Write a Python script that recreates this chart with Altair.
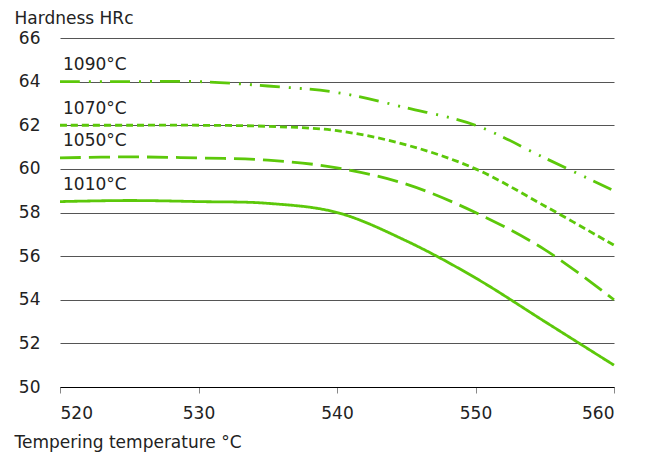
import altair as alt
import pandas as pd

temps = [520, 525, 530, 535, 540, 545, 550, 555, 560]
h1010 = [58.5, 58.55, 58.5, 58.42, 58.0, 56.7, 55.0, 53.0, 51.0]
h1050 = [60.5, 60.55, 60.5, 60.4, 60.05, 59.3, 58.0, 56.3, 54.0]
h1070 = [62.0, 62.0, 62.0, 61.95, 61.75, 61.1, 60.0, 58.3, 56.5]
h1090 = [64.0, 64.0, 64.0, 63.8, 63.5, 62.8, 62.0, 60.5, 59.0]
series = ["1010°C", "1050°C", "1070°C", "1090°C"]
values = [h1010, h1050, h1070, h1090]
y_ticks = [50, 52, 54, 56, 58, 60, 62, 64, 66]
x_ticks = [520, 530, 540, 550, 560]

rows = []
for s, vals in zip(series, values):
    for t, v in zip(temps, vals):
        rows.append({"series": s, "temp": t, "hrc": v})
df = pd.DataFrame(rows)
labels = pd.DataFrame({"series": series, "temp": [temps[0]] * 4, "hrc": [v[0] for v in values]})

GREEN = "#5cc80a"
FONT = "DejaVu Sans"
TXT = "#222"

x = alt.X("temp:Q", scale=alt.Scale(domain=[520, 560], nice=False),
          axis=alt.Axis(values=x_ticks, title="Tempering temperature °C", grid=False,
                        domainColor="#000", domainWidth=1.2, tickColor="#888", tickSize=6,
                        labelFontSize=17, labelFont=FONT, labelColor=TXT, labelPadding=12,
                        titleFont=FONT, titleFontSize=17, titleFontWeight="normal", titleColor=TXT,
                        titleAnchor="start", titleAlign="left", titleX=-46, titleY=60,
                        titleBaseline="alphabetic"))
y = alt.Y("hrc:Q", scale=alt.Scale(domain=[50, 66], nice=False),
          axis=alt.Axis(values=y_ticks, title="Hardness HRc", grid=True, gridColor="#555",
                        gridWidth=1, domain=False, ticks=False, labelFontSize=17, labelFont=FONT,
                        labelColor=TXT, labelPadding=20,
                        titleFont=FONT, titleFontSize=17, titleFontWeight="normal", titleColor=TXT,
                        titleAngle=0, titleAnchor="start", titleAlign="left", titleX=-46, titleY=-14.5,
                        titleBaseline="alphabetic"))

lines = alt.Chart(df).mark_line(color=GREEN, strokeWidth=2.8, interpolate="catmull-rom").encode(
    x=x, y=y,
    strokeDash=alt.StrokeDash("series:N", legend=None,
                              scale=alt.Scale(domain=series,
                                              range=[[1, 0], [21, 8], [7, 4], [20, 9, 2, 9, 2, 8]])),
    detail="series:N",
)

text = alt.Chart(labels).mark_text(align="left", baseline="alphabetic", dx=3, dy=-11.7,
                                   fontSize=17, font=FONT, color=TXT).encode(
    x="temp:Q", y="hrc:Q", text="series:N")

chart = (lines + text).properties(
    width=554, height=349,
    autosize=alt.AutoSizeParams(type="none"),
    padding={"left": 60, "top": 38, "right": 32, "bottom": 67},
).configure_view(stroke=None)

chart.save("out.html", embed_options={"renderer": "svg", "actions": False})
